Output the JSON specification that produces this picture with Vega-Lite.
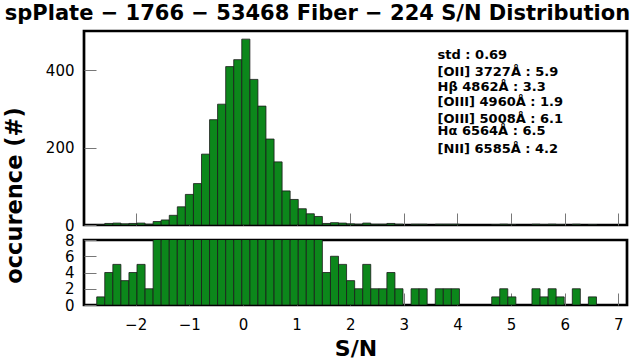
{
  "$schema": "https://vega.github.io/schema/vega-lite/v6.json",
  "padding": {"left": 1, "top": 2, "right": 0, "bottom": 0},
  "bounds": "flush",
  "title": {"text": "spPlate − 1766 − 53468 Fiber − 224 S/N Distribution", "fontSize": 21, "fontWeight": "bold", "font": "DejaVu Sans", "anchor": "middle", "frame": "group", "dx": -38, "offset": 6, "color": "#000"},
  "config": {
    "font": "DejaVu Sans",
    "view": {"stroke": "#000", "strokeWidth": 2.7},
    "axis": {"domain": false, "grid": false, "tickColor": "#777", "tickWidth": 1, "tickSize": 12, "offset": -12, "zindex": 1, "labelFontSize": 15, "labelColor": "#000", "labelPadding": 10, "titleColor": "#000"}
  },
  "datasets": {
    "hist": [
      {"lo": -2.726, "hi": -2.576, "n": 1},
      {"lo": -2.576, "hi": -2.425, "n": 4},
      {"lo": -2.425, "hi": -2.275, "n": 5},
      {"lo": -2.275, "hi": -2.125, "n": 3},
      {"lo": -2.125, "hi": -1.975, "n": 4},
      {"lo": -1.975, "hi": -1.824, "n": 5},
      {"lo": -1.824, "hi": -1.674, "n": 2},
      {"lo": -1.674, "hi": -1.524, "n": 9},
      {"lo": -1.524, "hi": -1.373, "n": 13},
      {"lo": -1.373, "hi": -1.223, "n": 25},
      {"lo": -1.223, "hi": -1.073, "n": 47},
      {"lo": -1.073, "hi": -0.922, "n": 79},
      {"lo": -0.922, "hi": -0.772, "n": 107},
      {"lo": -0.772, "hi": -0.622, "n": 183},
      {"lo": -0.622, "hi": -0.472, "n": 272},
      {"lo": -0.472, "hi": -0.321, "n": 312},
      {"lo": -0.321, "hi": -0.171, "n": 409},
      {"lo": -0.171, "hi": -0.021, "n": 427},
      {"lo": -0.021, "hi": 0.130, "n": 480},
      {"lo": 0.130, "hi": 0.280, "n": 376},
      {"lo": 0.280, "hi": 0.430, "n": 307},
      {"lo": 0.430, "hi": 0.581, "n": 222},
      {"lo": 0.581, "hi": 0.731, "n": 163},
      {"lo": 0.731, "hi": 0.881, "n": 88},
      {"lo": 0.881, "hi": 1.032, "n": 66},
      {"lo": 1.032, "hi": 1.182, "n": 42},
      {"lo": 1.182, "hi": 1.332, "n": 29},
      {"lo": 1.332, "hi": 1.482, "n": 22},
      {"lo": 1.482, "hi": 1.633, "n": 4},
      {"lo": 1.633, "hi": 1.783, "n": 6},
      {"lo": 1.783, "hi": 1.933, "n": 5},
      {"lo": 1.933, "hi": 2.084, "n": 3},
      {"lo": 2.084, "hi": 2.234, "n": 2},
      {"lo": 2.234, "hi": 2.384, "n": 5},
      {"lo": 2.384, "hi": 2.535, "n": 2},
      {"lo": 2.535, "hi": 2.685, "n": 2},
      {"lo": 2.685, "hi": 2.835, "n": 4},
      {"lo": 2.835, "hi": 2.985, "n": 2},
      {"lo": 3.136, "hi": 3.286, "n": 2},
      {"lo": 3.286, "hi": 3.436, "n": 2},
      {"lo": 3.587, "hi": 3.737, "n": 2},
      {"lo": 3.737, "hi": 3.887, "n": 2},
      {"lo": 3.887, "hi": 4.038, "n": 2},
      {"lo": 4.639, "hi": 4.789, "n": 1},
      {"lo": 4.789, "hi": 4.939, "n": 2},
      {"lo": 4.939, "hi": 5.090, "n": 1},
      {"lo": 5.390, "hi": 5.541, "n": 2},
      {"lo": 5.541, "hi": 5.691, "n": 1},
      {"lo": 5.691, "hi": 5.841, "n": 2},
      {"lo": 5.841, "hi": 5.991, "n": 1},
      {"lo": 6.142, "hi": 6.292, "n": 2},
      {"lo": 6.442, "hi": 6.593, "n": 1}
    ],
    "notes": [
      {"x": 3.63, "y": 439, "label": "std :  0.69"},
      {"x": 3.63, "y": 396, "label": "[OII] 3727Å : 5.9"},
      {"x": 3.63, "y": 357, "label": "Hβ 4862Å : 3.3"},
      {"x": 3.63, "y": 317, "label": "[OIII] 4960Å : 1.9"},
      {"x": 3.63, "y": 275, "label": "[OIII] 5008Å : 6.1"},
      {"x": 3.63, "y": 242, "label": "Hα 6564Å : 6.5"},
      {"x": 3.63, "y": 195, "label": "[NII] 6585Å : 4.2"}
    ]
  },
  "spacing": 15,
  "vconcat": [
    {
      "width": 543,
      "height": 194,
      "layer": [
        {
          "data": {"name": "hist"},
          "mark": {"type": "rect", "fill": "#0c871b", "stroke": "#1a1a1a", "strokeWidth": 0.8, "clip": true},
          "encoding": {
            "x": {"field": "lo", "type": "quantitative", "scale": {"domain": [-2.963, 7.162], "nice": false, "zero": false},
                  "axis": {"values": [-2, -1, 0, 1, 2, 3, 4, 5, 6, 7], "labels": false, "title": null, "minExtent": 0, "maxExtent": 0}},
            "x2": {"field": "hi"},
            "y": {"field": "n", "type": "quantitative", "scale": {"domain": [0, 501], "nice": false},
                  "axis": {"values": [0, 200, 400], "title": "occurence (#)", "titleFontSize": 22.5, "titleFontWeight": "bold", "titleX": -82, "titleY": 164, "titleBaseline": "middle", "titleAngle": 270}},
            "y2": {"datum": 0}
          }
        },
        {
          "data": {"name": "notes"},
          "mark": {"type": "text", "align": "left", "baseline": "middle", "fontSize": 13, "fontWeight": "bold", "color": "#000"},
          "encoding": {
            "x": {"field": "x", "type": "quantitative"},
            "y": {"field": "y", "type": "quantitative"},
            "text": {"field": "label"}
          }
        }
      ]
    },
    {
      "width": 543,
      "height": 65,
      "data": {"name": "hist"},
      "mark": {"type": "rect", "fill": "#0c871b", "stroke": "#1a1a1a", "strokeWidth": 0.8, "clip": true},
      "encoding": {
        "x": {"field": "lo", "type": "quantitative", "scale": {"domain": [-2.963, 7.162], "nice": false, "zero": false},
              "axis": {"values": [-2, -1, 0, 1, 2, 3, 4, 5, 6, 7], "title": "S/N", "titleFontSize": 22, "titleFontWeight": "bold", "titlePadding": 6, "labelPadding": 12}},
        "x2": {"field": "hi"},
        "y": {"field": "n", "type": "quantitative", "scale": {"domain": [0, 8], "nice": false},
              "axis": {"values": [0, 2, 4, 6, 8], "title": null}},
        "y2": {"datum": 0}
      }
    }
  ]
}
